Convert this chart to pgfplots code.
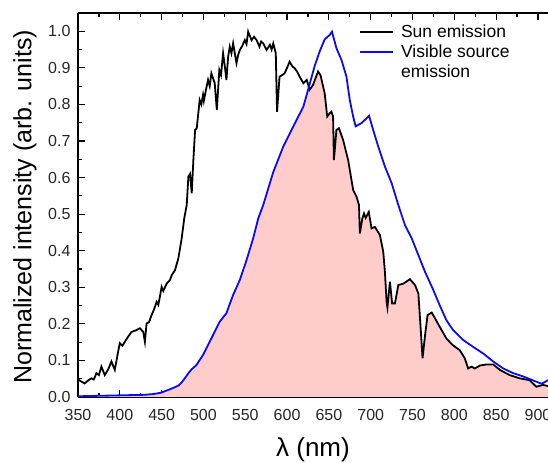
\documentclass[border=0pt]{standalone}
\usepackage{fontspec}
\setmainfont{Liberation Sans}
\usepackage{pgfplots}
\pgfplotsset{compat=1.18}
\usetikzlibrary{calc}

\definecolor{fillpink}{RGB}{255,204,204}
\definecolor{srcblue}{RGB}{10,10,250}

% sun emission spectrum (normalized)
\pgfplotstableread{
x y
350 0.050
352 0.045
358 0.037
362 0.045
366 0.051
369 0.048
372 0.065
375 0.060
378 0.083
382 0.060
386 0.075
390 0.097
394 0.074
398 0.124
400 0.147
403 0.140
406 0.151
410 0.165
414 0.178
419 0.182
424 0.188
428 0.178
430 0.151
432 0.201
435 0.205
438 0.224
441 0.240
444 0.260
446 0.252
448 0.275
450 0.301
452 0.290
456 0.310
460 0.320
462 0.333
466 0.347
470 0.379
474 0.434
477 0.488
480 0.525
482 0.603
484 0.610
486 0.557
488 0.650
490 0.730
492 0.735
495.5 0.812
497.5 0.800
499.5 0.826
500.5 0.810
503 0.840
505.5 0.867
507.5 0.850
509.5 0.885
513.5 0.858
516 0.785
519 0.894
521 0.880
523.5 0.940
525.5 0.905
527.5 0.867
529.5 0.930
531.5 0.958
533.5 0.940
535.5 0.967
539.5 0.913
541.5 0.935
543.5 0.949
546.5 0.960
549.5 0.976
551.5 0.965
553.5 0.999
557.5 0.976
560.5 0.985
563.5 0.976
567 0.958
569 0.972
571.5 0.967
575.5 0.949
579.5 0.963
581.5 0.950
583.5 0.967
586.5 0.940
588 0.780
591 0.876
594 0.880
597 0.885
600 0.900
603 0.917
606 0.905
609 0.899
612 0.890
615 0.876
619.5 0.858
623.5 0.867
627 0.840
631 0.853
637 0.890
640 0.880
645 0.830
648 0.767
651 0.776
653 0.780
655 0.767
656 0.648
659 0.730
662 0.735
667 0.703
673 0.648
679 0.566
683 0.548
686 0.525
687 0.447
690 0.488
692 0.502
694 0.490
697.7 0.506
701 0.461
705 0.465
711 0.443
715 0.397
717 0.342
719 0.260
720 0.245
723 0.315
725.6 0.256
729 0.256
733 0.306
739 0.310
747 0.322
753 0.306
757 0.283
760 0.178
762 0.106
765 0.169
768 0.224
773 0.231
782.5 0.192
790.5 0.160
798 0.142
806.5 0.128
812.5 0.106
816.5 0.078
820.5 0.083
824.5 0.078
830.5 0.086
838.5 0.089
846.5 0.089
854.5 0.074
866 0.060
878 0.051
890 0.046
898 0.028
906 0.033
912 0.030
}\sun

% visible source emission (normalized)
\pgfplotstableread{
x y
350 0.002
370 0.003
390 0.004
410 0.005
430 0.006
440 0.008
450 0.012
454 0.016
460 0.021
466 0.027
470 0.031
474 0.040
478 0.052
482 0.065
486 0.076
491.5 0.087
499.5 0.115
509.5 0.160
519.5 0.206
525 0.222
527.5 0.229
530 0.245
535.5 0.279
543.5 0.320
551.5 0.374
559.5 0.434
565.5 0.488
571.5 0.525
583.5 0.615
595.5 0.685
607.5 0.740
619.5 0.794
625 0.839
633 0.905
639 0.945
645 0.978
651 0.990
653.7 0.999
659 0.954
665 0.922
671 0.876
675 0.812
679 0.767
682 0.740
689 0.749
695 0.762
698 0.769
703 0.730
709 0.685
717 0.630
725 0.585
733 0.525
741 0.470
749 0.434
757 0.388
765 0.342
774 0.297
782.5 0.251
790.5 0.210
798.5 0.183
810.5 0.156
822.5 0.137
834.5 0.119
846.5 0.097
858.5 0.078
870.5 0.065
882.5 0.056
894.5 0.045
904.5 0.036
912 0.046
}\source

% overlap = min(sun, source)
\pgfplotstableread{
x y
350 0.002
370 0.003
390 0.004
410 0.005
430 0.006
440 0.008
450 0.012
454 0.016
460 0.021
466 0.027
470 0.031
474 0.040
478 0.052
482 0.065
486 0.076
491.5 0.087
499.5 0.115
509.5 0.160
519.5 0.206
525 0.222
527.5 0.229
530 0.245
535.5 0.279
543.5 0.320
551.5 0.374
559.5 0.434
565.5 0.488
571.5 0.525
583.5 0.615
595.5 0.685
607.5 0.740
619.5 0.794
625 0.835
627 0.840
631 0.853
637 0.890
640 0.880
645 0.830
648 0.767
651 0.776
653 0.780
655 0.767
656 0.648
659 0.730
662 0.735
667 0.703
673 0.648
679 0.566
683 0.548
686 0.525
687 0.447
690 0.488
692 0.502
694 0.490
697.7 0.506
701 0.461
705 0.465
711 0.443
715 0.397
717 0.342
719 0.260
720 0.245
723 0.315
725.6 0.256
729 0.256
733 0.306
739 0.310
747 0.322
753 0.306
757 0.283
760 0.178
762 0.106
765 0.169
768 0.224
773 0.231
782.5 0.192
790.5 0.160
798 0.142
806.5 0.128
812.5 0.106
816.5 0.078
820.5 0.083
824.5 0.078
830.5 0.086
838.5 0.089
846.5 0.089
854.5 0.074
866 0.060
878 0.051
890 0.046
898 0.028
906 0.033
912 0.030
}\overlap

\begin{document}
\begin{tikzpicture}
\begin{axis}[
  name=ax,
  width=470pt, height=384pt, scale only axis,
  xmin=350, xmax=912, ymin=0, ymax=1.05,
  xtick={350,400,...,900}, ytick={0,0.1,...,1.0},
  minor x tick num=1, minor y tick num=1,
  axis x line*=box, axis y line*=left,
  tick align=inside,
  major tick length=7pt, minor tick length=4pt,
  axis line style={line width=1.3pt, -},
  every tick/.style={black, line width=1.2pt},
  /pgf/number format/assume math mode=true,
  yticklabel style={/pgf/number format/fixed, /pgf/number format/fixed zerofill,
    /pgf/number format/precision=1, xshift=-4pt},
  xticklabel style={/pgf/number format/set thousands separator={}, yshift=-9pt},
  tick label style={font=\fontsize{16}{18}\selectfont, color=black!85},
  every axis x label/.style={at={(rel axis cs:0.5,0)}, anchor=center, yshift=-53pt},
  every axis y label/.style={at={(rel axis cs:0,0.495)}, rotate=90, anchor=center, yshift=53pt},
  xlabel={\fontsize{26}{28}\selectfont λ (nm)},
  ylabel={\fontsize{25}{28}\selectfont Normalized intensity (arb. units)},
  legend style={at={(rel axis cs:0.598,0.972)}, anchor=north west, draw=none, fill=none,
    font=\fontsize{17.5}{20}\selectfont, row sep=4pt, column sep=6pt, inner sep=0pt,
    nodes={inner sep=1pt}},
  legend cell align=left,
  legend image code/.code={\draw[#1] (0pt,0pt) -- (33pt,0pt);},
  clip=true,
]
\addplot[fill=fillpink, draw=none, forget plot] table[x=x, y=y] {\overlap} \closedcycle;
\addplot[black, line width=1.8pt] table[x=x, y=y] {\sun};
\addplot[srcblue, line width=1.8pt] table[x=x, y=y] {\source};
\addlegendentry{Sun emission}
\addlegendentry{Visible source}
\addlegendimage{empty legend}
\addlegendentry{emission}
\end{axis}
\pgfresetboundingbox
\path ($(ax.south west)+(-78pt,-66pt)$) rectangle ($(ax.north east)+(0pt,13pt)$);
\end{tikzpicture}
\end{document}
